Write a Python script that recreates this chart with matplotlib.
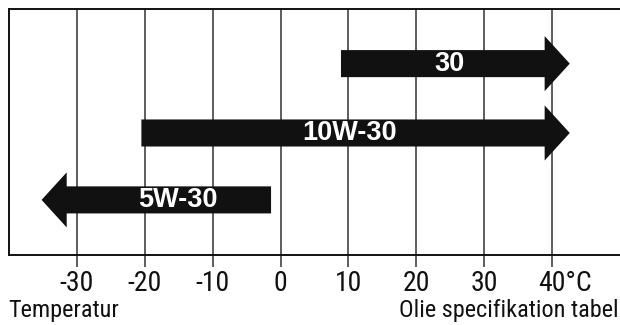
import matplotlib
matplotlib.use("Agg")
import matplotlib.pyplot as plt
from matplotlib.transforms import ScaledTranslation
from matplotlib import font_manager

# ---- data ----
grades = ["30", "10W-30", "5W-30"]
range_start = [8.9, -20.5, -1.4]      # tail end (°C)
range_end = [42.6, 42.6, -35.2]       # arrow tip (°C)
label_x = [24.9, 10.2, -15.2]
tick_values = [-30, -20, -10, 0, 10, 20, 30, 40]
tick_labels = ["-30", "-20", "-10", "0", "10", "20", "30", "40°C"]
caption_left = "Temperatur"
caption_right = "Olie specifikation tabel"

# ---- fonts ----
names = {f.name for f in font_manager.fontManager.ttflist}
narrow = "Liberation Sans"
for cand in ["Nimbus Sans Narrow", "Arial Narrow", "Liberation Sans Narrow",
             "Roboto Condensed", "Archivo Narrow", "PT Sans Narrow"]:
    if cand in names:
        narrow = cand
        break

fig = plt.figure(figsize=(6.2, 3.25), dpi=100)
ax = fig.add_axes([9 / 620, 70 / 325, 611 / 620, 246 / 325])
ax.set_xlim(-40, 50)
ax.set_ylim(0, 1)

row_y = [0.778, 0.496, 0.224]
body_w = 0.11
head_w = 0.224
head_len = 3.7

grid_col = "#505050"
for v in tick_values:
    ax.axvline(v, color=grid_col, lw=1.3, zorder=1)

for g, s, e, lx, y in zip(grades, range_start, range_end, label_x, row_y):
    ax.arrow(s, y, e - s, 0, width=body_w, head_width=head_w, head_length=head_len,
             length_includes_head=True, color="#111111", lw=0, zorder=3)
    ax.text(lx, y, g, color="white", fontsize=19.5, fontweight="bold",
            family="Liberation Sans", ha="center", va="center", zorder=4)

ax.set_yticks([])
ax.set_xticks(tick_values)
ax.set_xticklabels(tick_labels, fontsize=20, family=narrow)
ax.tick_params(axis="x", direction="out", length=8.5, width=1.3, color=grid_col,
               pad=2, labelcolor="#111111")
labels = ax.get_xticklabels()
labels[-1].set_transform(labels[-1].get_transform() +
                         ScaledTranslation(13 / 100, 0, fig.dpi_scale_trans))

for side in ["left", "top", "bottom"]:
    ax.spines[side].set_color("#111111")
    ax.spines[side].set_linewidth(1.4)
ax.spines["right"].set_visible(False)

fig.text(8 / 620, 1 - 311 / 325, caption_left, fontsize=17.5, family=narrow,
         ha="left", va="center", color="#111111")
fig.text(619 / 620, 1 - 311 / 325, caption_right, fontsize=17.5, family=narrow,
         ha="right", va="center", color="#111111")

fig.savefig("out.png", dpi=100, facecolor="white")
